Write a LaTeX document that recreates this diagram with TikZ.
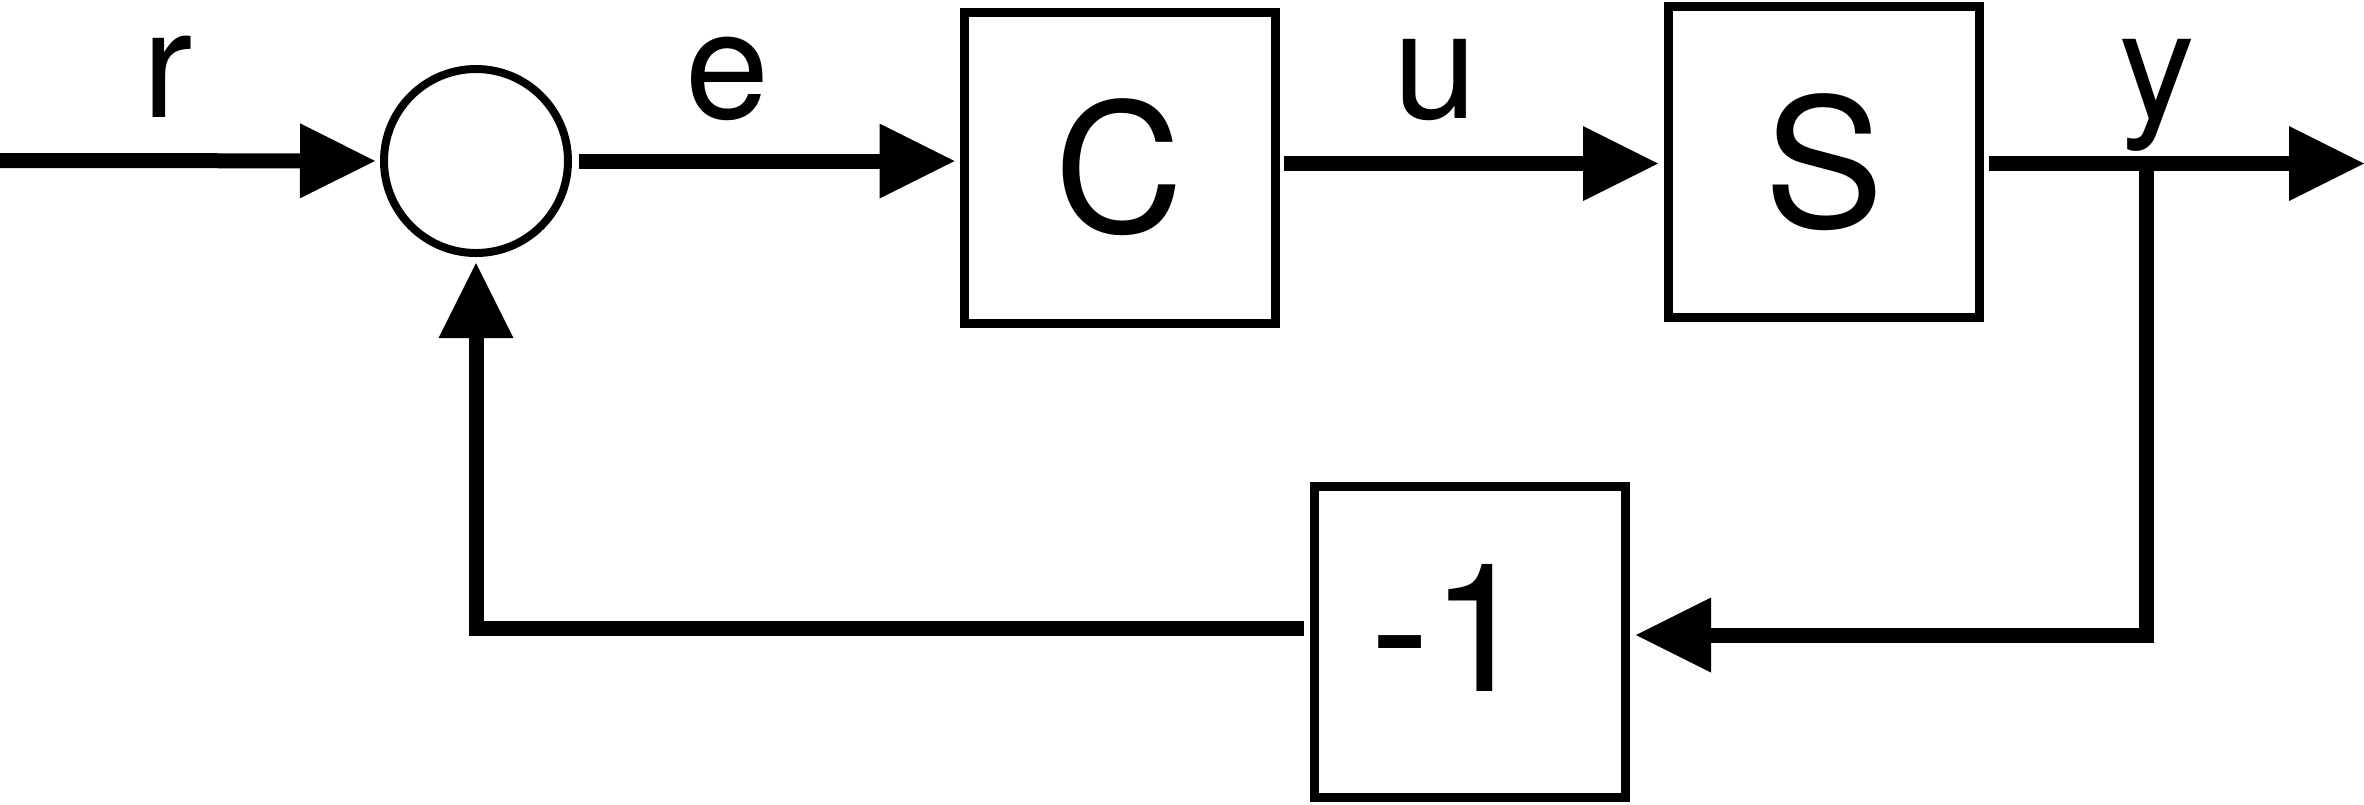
\documentclass[tikz,border=0pt]{standalone}
\usepackage{fontspec}
\setmainfont{TeX Gyre Heros}
\usetikzlibrary{arrows.meta}
\begin{document}
\begin{tikzpicture}[big/.style={font=\fontsize{51}{60}\selectfont},
blk/.style={big,draw,line width=0.09cm,minimum size=3.11cm,inner sep=0pt},
lbl/.style={anchor=base,inner sep=0pt,font=\fontsize{43}{50}\selectfont},
sig/.style={line width=0.15cm,-{Triangle[length=0.75cm,width=0.75cm,line width=0pt]}}]
\useasboundingbox (0,0) rectangle (23.64,-8.04);
\node[draw,circle,line width=0.08cm,minimum size=1.84cm,inner sep=0pt](sum)at(4.76,-1.61){};
\node[blk](C)at(11.195,-1.675){C};
\node[blk](S)at(18.24,-1.62){S};
\node[blk](neg)at(14.70,-6.42){};
\node[big,inner sep=0pt](negtxt)at(14.50,-6.28){-1};
\coordinate(in)at(0,-1.605);
\coordinate(out)at(23.64,-1.635);
\coordinate(br)at(21.465,-1.635);
\coordinate(brd)at(21.465,-6.35);
\coordinate(fb)at(4.785,-6.28);
\draw[sig,shorten >=0.05cm](in)--(sum);
\draw[sig,shorten <=0.07cm,shorten >=0.05cm](sum)--(C.west|-sum);
\draw[sig,shorten <=0.04cm,shorten >=0.06cm](C.east|-out)--(S.west|-out);
\draw[sig,shorten <=0.05cm](S.east|-out)--(out);
\draw[sig,shorten >=0.06cm](br)--(brd)--(neg.east|-brd);
\draw[sig,shorten <=0.06cm,shorten >=0.06cm](neg.west|-fb)-|(sum.south);
\node[lbl](r)at(1.68,-1.17){r};
\node[lbl](e)at(7.28,-1.18){e};
\node[lbl](u)at(14.35,-1.18){u};
\node[lbl](y)at(21.57,-1.18){y};
\end{tikzpicture}
\end{document}
